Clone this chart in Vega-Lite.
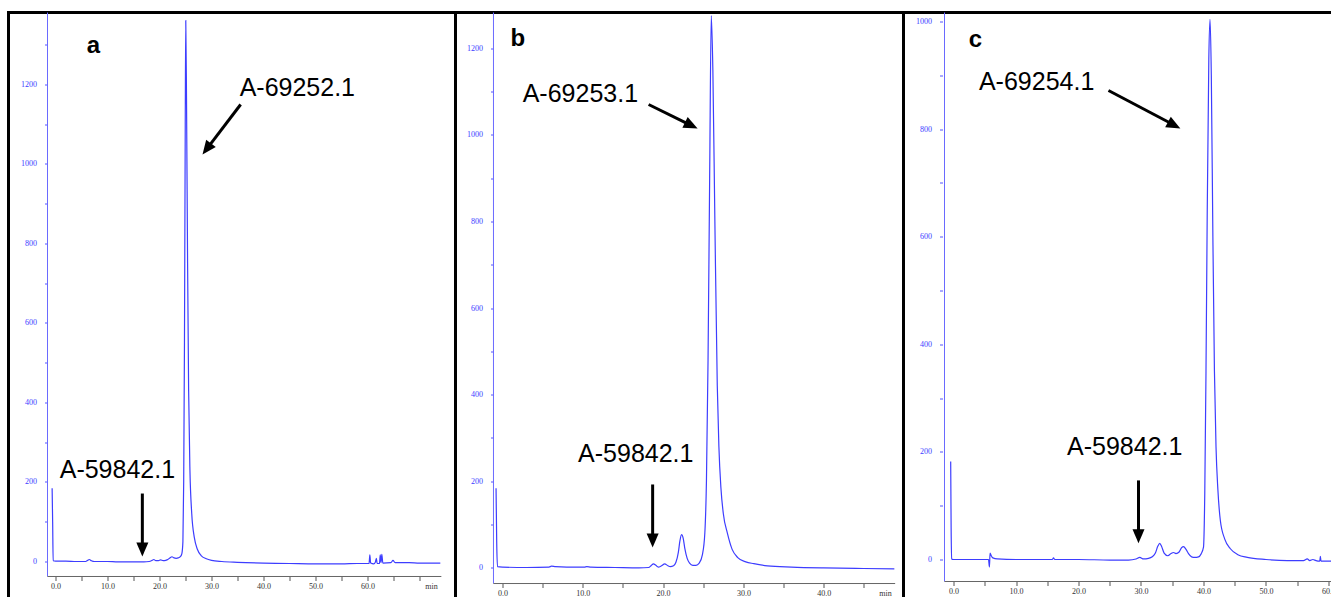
{
  "$schema": "https://vega.github.io/schema/vega-lite/v6.json",
  "background": "white",
  "padding": {"left": 6.5, "top": 10.5, "right": 0, "bottom": 0},
  "spacing": 0,
  "bounds": "flush",
  "config": {
    "view": {"stroke": "black", "strokeWidth": 3},
    "axis": {"labelFont": "Liberation Serif", "labelFontSize": 8, "title": null, "grid": false, "domain": false}
  },
  "hconcat": [
    {
      "width": 447, "height": 600,
      "encoding": {
        "x": {"field": "x", "type": "quantitative",
          "scale": {"domain": [-9.04, 76.92], "nice": false, "zero": false},
          "axis": {"orient": "bottom", "offset": -36, "values": [0,5,10,15,20,25,30,35,40,45,50,55,60,65,70],
            "labelExpr": "datum.value % 10 === 0 && datum.value <= 60 ? format(datum.value, '.1f') : ''",
            "tickSize": 4, "tickColor": "#555555", "labelColor": "#333333", "labelPadding": 2}},
        "y": {"field": "y", "type": "quantitative",
          "scale": {"domain": [-128.3, 1381.1], "nice": false, "zero": false},
          "axis": {"orient": "left", "offset": -39, "values": [0,100,200,300,400,500,600,700,800,900,1000,1100,1200,1300],
            "labelExpr": "datum.value % 200 === 0 ? format(datum.value, 'd') : ''",
            "tickSize": 3, "tickColor": "#5555ff", "labelColor": "#3c3cff", "labelPadding": 8}}
      },
      "layer": [
        {"data": {"values": [
          {"x":-0.65,"y":184},{"x":-0.55,"y":100},{"x":-0.45,"y":2},{"x":0,"y":1},{"x":2,"y":1},{"x":4,"y":0},{"x":5.8,"y":0},{"x":6.2,"y":3},{"x":6.5,"y":5},{"x":6.9,"y":2},{"x":7.5,"y":0},{"x":10,"y":0},{"x":12,"y":-1},{"x":15,"y":-1},{"x":17,"y":-1},{"x":18,"y":0},{"x":18.6,"y":3},{"x":18.9,"y":5},{"x":19.3,"y":2},{"x":19.8,"y":2},{"x":20.2,"y":4},{"x":20.7,"y":2},{"x":21.2,"y":3},{"x":21.6,"y":5},{"x":22.0,"y":9},{"x":22.4,"y":12},{"x":22.8,"y":9},{"x":23.2,"y":8},{"x":23.6,"y":9},{"x":24.0,"y":12},{"x":24.3,"y":20},{"x":24.5,"y":50},{"x":24.65,"y":200},{"x":24.8,"y":550},{"x":24.95,"y":1100},{"x":25.05,"y":1361},{"x":25.2,"y":1150},{"x":25.4,"y":750},{"x":25.6,"y":430},{"x":25.85,"y":230},{"x":26.2,"y":120},{"x":26.7,"y":60},{"x":27.3,"y":30},{"x":28.0,"y":15},{"x":29.0,"y":7},{"x":30.0,"y":3},{"x":32,"y":0},{"x":35,"y":-2},{"x":40,"y":-4},{"x":45,"y":-5},{"x":50,"y":-6},{"x":55,"y":-6},{"x":58,"y":-5},{"x":60.3,"y":-5},{"x":60.45,"y":17},{"x":60.6,"y":-4},{"x":61.2,"y":-6},{"x":61.5,"y":-2},{"x":61.7,"y":8},{"x":61.85,"y":-5},{"x":62.3,"y":-5},{"x":62.45,"y":17},{"x":62.6,"y":-3},{"x":62.75,"y":18},{"x":62.95,"y":-4},{"x":64.5,"y":-3},{"x":64.9,"y":3},{"x":65.3,"y":-3},{"x":68,"y":-3},{"x":70,"y":-4},{"x":74,"y":-4}
        ]},
         "mark": {"type": "line", "color": "#3d3dff", "strokeWidth": 1.2, "interpolate": "monotone"}},
        {"data": {"values": [{"x": -1.54, "y": -37.7, "y2": 1381}]},
         "mark": {"type": "rule", "color": "#6a6aff", "strokeWidth": 1}, "encoding": {"y2": {"field": "y2"}}},
        {"data": {"values": [{"x": -1.54, "x2": 74.2, "y": -37.7}]},
         "mark": {"type": "rule", "color": "#666666", "strokeWidth": 1}, "encoding": {"x2": {"field": "x2"}}},
        {"data": {"values": [{"x": 35.6, "y": 1149.7, "x2": 29.43, "y2": 1043.9}, {"x": 16.7, "y": 171, "x2": 16.7, "y2": 40}]},
         "mark": {"type": "rule", "color": "black", "strokeWidth": 3}, "encoding": {"x2": {"field": "x2"}, "y2": {"field": "y2"}}},
        {"data": {"values": [{"x": 28.27, "y": 1023.9}]},
         "mark": {"type": "point", "shape": "M0,0 L-0.43,1 L0.43,1 Z", "size": 784, "filled": true, "color": "black", "opacity": 1, "strokeWidth": 0, "angle": 217.2}},
        {"data": {"values": [{"x": 16.7, "y": 12.6}]},
         "mark": {"type": "point", "shape": "M0,0 L-0.43,1 L0.43,1 Z", "size": 784, "filled": true, "color": "black", "opacity": 1, "strokeWidth": 0, "angle": 180}},
        {"data": {"values": [{"x": 46.5, "y": 1172, "label": "A-69252.1"}, {"x": 11.9, "y": 209, "label": "A-59842.1"}]},
         "mark": {"type": "text", "font": "Liberation Sans", "fontSize": 25, "align": "center", "baseline": "alphabetic", "color": "black"},
         "encoding": {"text": {"field": "label"}}},
        {"data": {"values": [{"x": 7.3, "y": 1280, "label": "a"}]},
         "mark": {"type": "text", "font": "Liberation Sans", "fontSize": 24, "fontWeight": "bold", "align": "center", "baseline": "alphabetic", "color": "black"},
         "encoding": {"text": {"field": "label"}}},
        {"data": {"values": [{"x": 72.3, "y": -68, "label": "min"}]},
         "mark": {"type": "text", "font": "Liberation Serif", "fontSize": 8, "align": "center", "baseline": "alphabetic", "color": "#333333"},
         "encoding": {"text": {"field": "label"}}}
      ]
    },
    {
      "width": 448, "height": 600,
      "encoding": {
        "x": {"field": "x", "type": "quantitative",
          "scale": {"domain": [-5.85, 49.94], "nice": false, "zero": false},
          "axis": {"orient": "bottom", "offset": -29, "values": [0,5,10,15,20,25,30,35,40,45],
            "labelExpr": "datum.value % 10 === 0 ? format(datum.value, '.1f') : ''",
            "tickSize": 4, "tickColor": "#555555", "labelColor": "#333333", "labelPadding": 2}},
        "y": {"field": "y", "type": "quantitative",
          "scale": {"domain": [-104.0, 1283.2], "nice": false, "zero": false},
          "axis": {"orient": "left", "offset": -38, "values": [0,100,200,300,400,500,600,700,800,900,1000,1100,1200],
            "labelExpr": "datum.value % 200 === 0 ? format(datum.value, 'd') : ''",
            "tickSize": 3, "tickColor": "#5555ff", "labelColor": "#3c3cff", "labelPadding": 8}}
      },
      "layer": [
        {"data": {"values": [
          {"x":-0.8,"y":183},{"x":-0.72,"y":60},{"x":-0.62,"y":2},{"x":0,"y":1},{"x":3,"y":0},{"x":5.8,"y":1},{"x":6.1,"y":3},{"x":6.6,"y":2},{"x":8,"y":1},{"x":10.2,"y":1},{"x":10.5,"y":2},{"x":11,"y":1},{"x":14,"y":0},{"x":17,"y":-1},{"x":18.2,"y":0},{"x":18.5,"y":4},{"x":18.8,"y":8.5},{"x":19.1,"y":5},{"x":19.4,"y":1},{"x":19.8,"y":4},{"x":20.2,"y":8.5},{"x":20.6,"y":4},{"x":20.9,"y":2},{"x":21.3,"y":4},{"x":21.6,"y":12},{"x":21.9,"y":35},{"x":22.1,"y":62},{"x":22.3,"y":76},{"x":22.5,"y":68},{"x":22.7,"y":45},{"x":23.0,"y":21},{"x":23.3,"y":10},{"x":23.7,"y":5},{"x":24.1,"y":5},{"x":24.5,"y":10},{"x":24.9,"y":30},{"x":25.2,"y":80},{"x":25.4,"y":200},{"x":25.6,"y":480},{"x":25.8,"y":900},{"x":26.0,"y":1276},{"x":26.2,"y":1150},{"x":26.45,"y":800},{"x":26.75,"y":420},{"x":26.95,"y":280},{"x":27.2,"y":185},{"x":27.5,"y":125},{"x":28.0,"y":80},{"x":28.6,"y":42},{"x":29.3,"y":23},{"x":30.3,"y":13},{"x":31.3,"y":9},{"x":33,"y":4},{"x":36,"y":1},{"x":40,"y":-1},{"x":44,"y":-2},{"x":48.8,"y":-3}
        ]},
         "mark": {"type": "line", "color": "#3d3dff", "strokeWidth": 1.2, "interpolate": "monotone"}},
        {"data": {"values": [{"x": -1.12, "y": -37, "y2": 1283.2}]},
         "mark": {"type": "rule", "color": "#6a6aff", "strokeWidth": 1}, "encoding": {"y2": {"field": "y2"}}},
        {"data": {"values": [{"x": -1.12, "x2": 48.9, "y": -37}]},
         "mark": {"type": "rule", "color": "#666666", "strokeWidth": 1}, "encoding": {"x2": {"field": "x2"}}},
        {"data": {"values": [{"x": 18.2, "y": 1070.5, "x2": 23.16, "y2": 1025.2}, {"x": 18.7, "y": 192, "x2": 18.7, "y2": 71.4}]},
         "mark": {"type": "rule", "color": "black", "strokeWidth": 3}, "encoding": {"x2": {"field": "x2"}, "y2": {"field": "y2"}}},
        {"data": {"values": [{"x": 24.3, "y": 1015}]},
         "mark": {"type": "point", "shape": "M0,0 L-0.43,1 L0.43,1 Z", "size": 784, "filled": true, "color": "black", "opacity": 1, "strokeWidth": 0, "angle": 116.1}},
        {"data": {"values": [{"x": 18.7, "y": 46}]},
         "mark": {"type": "point", "shape": "M0,0 L-0.43,1 L0.43,1 Z", "size": 784, "filled": true, "color": "black", "opacity": 1, "strokeWidth": 0, "angle": 180}},
        {"data": {"values": [{"x": 9.7, "y": 1077, "label": "A-69253.1"}, {"x": 16.6, "y": 245, "label": "A-59842.1"}]},
         "mark": {"type": "text", "font": "Liberation Sans", "fontSize": 25, "align": "center", "baseline": "alphabetic", "color": "black"},
         "encoding": {"text": {"field": "label"}}},
        {"data": {"values": [{"x": 1.9, "y": 1205, "label": "b"}]},
         "mark": {"type": "text", "font": "Liberation Sans", "fontSize": 24, "fontWeight": "bold", "align": "center", "baseline": "alphabetic", "color": "black"},
         "encoding": {"text": {"field": "label"}}},
        {"data": {"values": [{"x": 47.7, "y": -65, "label": "min"}]},
         "mark": {"type": "text", "font": "Liberation Serif", "fontSize": 8, "align": "center", "baseline": "alphabetic", "color": "#333333"},
         "encoding": {"text": {"field": "label"}}}
      ]
    },
    {
      "width": 440, "height": 600,
      "encoding": {
        "x": {"field": "x", "type": "quantitative",
          "scale": {"domain": [-8.0, 62.4], "nice": false, "zero": false},
          "axis": {"orient": "bottom", "offset": -31, "values": [0,5,10,15,20,25,30,35,40,45,50,55,60],
            "labelExpr": "datum.value % 10 === 0 ? format(datum.value, '.1f') : ''",
            "tickSize": 4, "tickColor": "#555555", "labelColor": "#333333", "labelPadding": 2}},
        "y": {"field": "y", "type": "quantitative",
          "scale": {"domain": [-98.5, 1016.7], "nice": false, "zero": false},
          "axis": {"orient": "left", "offset": -39, "values": [0,100,200,300,400,500,600,700,800,900,1000],
            "labelExpr": "datum.value % 200 === 0 ? format(datum.value, 'd') : ''",
            "tickSize": 3, "tickColor": "#5555ff", "labelColor": "#3c3cff", "labelPadding": 8}}
      },
      "layer": [
        {"data": {"values": [
          {"x":-0.45,"y":182},{"x":-0.38,"y":60},{"x":-0.3,"y":1},{"x":0,"y":0},{"x":3,"y":0},{"x":5.6,"y":0},{"x":5.75,"y":-14},{"x":5.85,"y":12},{"x":6.0,"y":8},{"x":6.3,"y":3},{"x":7,"y":1},{"x":10,"y":0},{"x":15.8,"y":0},{"x":16,"y":3},{"x":16.2,"y":0},{"x":20,"y":0},{"x":25,"y":-1},{"x":28,"y":-1},{"x":29.2,"y":1},{"x":29.8,"y":4},{"x":30.4,"y":1},{"x":31.2,"y":2},{"x":31.8,"y":5},{"x":32.3,"y":12},{"x":32.7,"y":25},{"x":33.0,"y":30},{"x":33.3,"y":24},{"x":33.7,"y":12},{"x":34.3,"y":7},{"x":34.8,"y":11},{"x":35.2,"y":13},{"x":35.6,"y":11},{"x":36.1,"y":14},{"x":36.5,"y":22},{"x":36.8,"y":24},{"x":37.2,"y":19},{"x":37.6,"y":11},{"x":38.1,"y":5},{"x":38.6,"y":4},{"x":39.2,"y":5},{"x":39.6,"y":10},{"x":40.0,"y":23},{"x":40.2,"y":120},{"x":40.4,"y":350},{"x":40.6,"y":650},{"x":40.85,"y":930},{"x":41.05,"y":1004},{"x":41.25,"y":900},{"x":41.5,"y":600},{"x":41.75,"y":350},{"x":42.0,"y":210},{"x":42.3,"y":130},{"x":42.7,"y":72},{"x":43.4,"y":38},{"x":44.3,"y":20},{"x":45.5,"y":9},{"x":47.0,"y":4},{"x":50,"y":0},{"x":53.4,"y":-2},{"x":56,"y":-2},{"x":56.6,"y":1},{"x":57,"y":-2},{"x":57.5,"y":0},{"x":58,"y":-2},{"x":58.6,"y":-3},{"x":58.7,"y":6},{"x":58.8,"y":-3},{"x":60,"y":-3},{"x":62,"y":-3}
        ]},
         "mark": {"type": "line", "color": "#3d3dff", "strokeWidth": 1.2, "interpolate": "monotone"}},
        {"data": {"values": [{"x": -1.44, "y": -40.9, "y2": 1016.7}]},
         "mark": {"type": "rule", "color": "#6a6aff", "strokeWidth": 1}, "encoding": {"y2": {"field": "y2"}}},
        {"data": {"values": [{"x": -1.44, "x2": 62.4, "y": -40.9}]},
         "mark": {"type": "rule", "color": "#666666", "strokeWidth": 1}, "encoding": {"x2": {"field": "x2"}}},
        {"data": {"values": [{"x": 24.8, "y": 871.7, "x2": 34.9, "y2": 809.9}, {"x": 29.6, "y": 147, "x2": 29.6, "y2": 50.4}]},
         "mark": {"type": "rule", "color": "black", "strokeWidth": 3}, "encoding": {"x2": {"field": "x2"}, "y2": {"field": "y2"}}},
        {"data": {"values": [{"x": 36.3, "y": 801}]},
         "mark": {"type": "point", "shape": "M0,0 L-0.43,1 L0.43,1 Z", "size": 784, "filled": true, "color": "black", "opacity": 1, "strokeWidth": 0, "angle": 117.8}},
        {"data": {"values": [{"x": 29.6, "y": 30}]},
         "mark": {"type": "point", "shape": "M0,0 L-0.43,1 L0.43,1 Z", "size": 784, "filled": true, "color": "black", "opacity": 1, "strokeWidth": 0, "angle": 180}},
        {"data": {"values": [{"x": 13.3, "y": 872, "label": "A-69254.1"}, {"x": 27.4, "y": 195, "label": "A-59842.1"}]},
         "mark": {"type": "text", "font": "Liberation Sans", "fontSize": 25, "align": "center", "baseline": "alphabetic", "color": "black"},
         "encoding": {"text": {"field": "label"}}},
        {"data": {"values": [{"x": 3.5, "y": 952, "label": "c"}]},
         "mark": {"type": "text", "font": "Liberation Sans", "fontSize": 24, "fontWeight": "bold", "align": "center", "baseline": "alphabetic", "color": "black"},
         "encoding": {"text": {"field": "label"}}}
      ]
    }
  ]
}
